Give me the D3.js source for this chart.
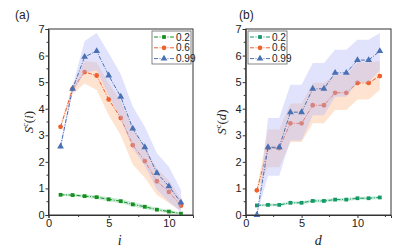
<!DOCTYPE html>
<html>
<head>
<meta charset="utf-8">
<title>S^c panels</title>
<script src="https://d3js.org/d3.v7.min.js"></script>
<style>
  body { margin: 0; background: #fff; }
</style>
</head>
<body>
<div id="chart"></div>
<script>
// series labels
let seriesNames = ["0.2", "0.6", "0.99"];

// panel (a): S^c(i)
let iX = [1, 2, 3, 4, 5, 6, 7, 8, 9, 10, 11];
let a_g    = [0.76, 0.75, 0.71, 0.67, 0.59, 0.52, 0.40, 0.31, 0.20, 0.13, 0.05];
let a_g_lo = [0.72, 0.70, 0.65, 0.60, 0.51, 0.44, 0.32, 0.23, 0.14, 0.07, 0.01];
let a_g_hi = [0.80, 0.80, 0.77, 0.74, 0.67, 0.60, 0.48, 0.39, 0.27, 0.19, 0.09];
let a_o    = [3.32, 4.75, 5.38, 5.25, 4.35, 3.65, 2.63, 2.03, 1.27, 0.87, 0.35];
let a_o_lo = [3.25, 4.55, 4.95, 4.70, 3.75, 3.00, 1.90, 1.40, 0.75, 0.45, 0.15];
let a_o_hi = [3.40, 4.90, 5.80, 5.75, 4.95, 4.30, 3.25, 2.60, 1.75, 1.30, 0.60];
let a_b    = [2.58, 4.75, 5.95, 6.17, 5.25, 4.45, 3.25, 2.55, 1.58, 1.08, 0.47];
let a_b_lo = [2.42, 4.60, 5.35, 5.45, 4.50, 3.60, 2.50, 1.85, 0.95, 0.50, 0.10];
let a_b_hi = [2.72, 4.85, 6.55, 6.85, 6.10, 5.30, 4.08, 3.32, 2.32, 1.82, 0.94];

// panel (b): S^c(d)
let dX = [1, 2, 3, 4, 5, 6, 7, 8, 9, 10, 11, 12];
let b_g    = [0.36, 0.38, 0.38, 0.46, 0.46, 0.53, 0.53, 0.58, 0.58, 0.63, 0.63, 0.66];
let b_g_lo = [0.32, 0.33, 0.33, 0.40, 0.40, 0.47, 0.47, 0.52, 0.52, 0.57, 0.57, 0.60];
let b_g_hi = [0.40, 0.43, 0.43, 0.52, 0.52, 0.59, 0.59, 0.64, 0.64, 0.69, 0.69, 0.72];
let b_o    = [0.93, 2.52, 2.52, 3.45, 3.45, 4.13, 4.13, 4.60, 4.60, 4.97, 4.97, 5.23];
let b_o_lo = [0.88, 1.80, 1.80, 2.75, 2.75, 3.45, 3.45, 3.95, 3.95, 4.35, 4.35, 4.70];
let b_o_hi = [0.98, 3.22, 3.22, 4.20, 4.20, 4.98, 4.98, 5.28, 5.28, 5.75, 5.75, 5.80];
let b_b    = [0.00, 2.55, 2.55, 3.87, 3.87, 4.75, 4.75, 5.35, 5.35, 5.83, 5.83, 6.17];
let b_b_lo = [0.00, 1.48, 1.48, 2.80, 2.80, 3.75, 3.75, 4.45, 4.45, 5.00, 5.00, 5.45];
let b_b_hi = [0.00, 3.65, 3.65, 4.90, 4.90, 5.72, 5.72, 6.22, 6.22, 6.60, 6.60, 6.85];

let xTicks = [0, 5, 10];
let yTicks = [0, 1, 2, 3, 4, 5, 6, 7];

let W = 415, H = 249;
let sans = "Liberation Sans, Arial, sans-serif";
let serif = "Liberation Serif, Times New Roman, serif";
let svg = d3.select("#chart").append("svg")
    .attr("width", W).attr("height", H);

function symbolPath(kind, size) {
    let t = kind == "square" ? d3.symbolSquare : kind == "circle" ? d3.symbolCircle : d3.symbolTriangle;
    return d3.symbol().type(t).size(size)();
}

function drawPanel(p) {
    let x = d3.scaleLinear().domain([0, p.xmax]).range([p.left, p.right]);
    let y = d3.scaleLinear().domain([0, 7]).range([215, 29]);
    let g = svg.append("g");

    // frame
    g.append("rect")
        .attr("x", p.left).attr("y", y(7))
        .attr("width", p.right - p.left).attr("height", y(0) - y(7))
        .attr("fill", "none").attr("stroke", "#333").attr("stroke-width", 1);

    // series: band then line, in order green, orange, blue
    p.series.forEach(function(s) {
        let pts = p.xs.map(function(v, k) { return {x: v, y: s.v[k], lo: s.lo[k], hi: s.hi[k]}; });
        g.append("path")
            .datum(pts)
            .attr("fill", s.band)
            .attr("fill-opacity", s.bandOp)
            .attr("d", d3.area()
                .x(function(d) { return x(d.x); })
                .y0(function(d) { return y(d.lo); })
                .y1(function(d) { return y(d.hi); }));
        g.append("path")
            .datum(pts)
            .attr("fill", "none")
            .attr("stroke", s.color)
            .attr("stroke-width", 1)
            .attr("stroke-dasharray", "4,1.5,1,1.5")
            .attr("d", d3.line()
                .x(function(d) { return x(d.x); })
                .y(function(d) { return y(d.y); }));
        g.selectAll(null)
            .data(pts)
            .enter()
            .append("path")
            .attr("transform", function(d) { return "translate(" + x(d.x) + "," + y(d.y) + ")"; })
            .attr("d", symbolPath(s.shape, s.size))
            .attr("fill", s.color);
    });

    // axes
    let xAxis = d3.axisBottom(x).tickValues(xTicks).tickFormat(d3.format("d")).tickSize(3).tickPadding(1);
    let yAxis = d3.axisLeft(y).tickValues(yTicks).tickFormat(d3.format("d")).tickSize(3).tickPadding(1);
    let gx = g.append("g").attr("transform", "translate(0,215)").call(xAxis);
    let gy = g.append("g").attr("transform", "translate(" + p.left + ",0)").call(yAxis);
    [gx, gy].forEach(function(a) {
        a.select(".domain").attr("stroke", "#333");
        a.selectAll(".tick line").attr("stroke", "#333");
        a.selectAll(".tick text")
            .attr("font-family", sans)
            .attr("font-size", "11px").attr("fill", "#222");
    });
    // minor ticks
    let minorX = [2.5, 7.5, 12.5].filter(function(v) { return v < p.xmax; });
    g.selectAll(null).data(minorX).enter().append("line")
        .attr("x1", function(d) { return x(d); }).attr("x2", function(d) { return x(d); })
        .attr("y1", 215).attr("y2", 217).attr("stroke", "#333");
    let minorY = [0.5, 1.5, 2.5, 3.5, 4.5, 5.5, 6.5];
    g.selectAll(null).data(minorY).enter().append("line")
        .attr("x1", p.left - 2).attr("x2", p.left)
        .attr("y1", function(d) { return y(d); }).attr("y2", function(d) { return y(d); })
        .attr("stroke", "#333");

    // labels
    g.append("text")
        .attr("x", p.panelX).attr("y", 19)
        .attr("font-family", sans)
        .attr("font-size", "12px").attr("fill", "#222")
        .text(p.panel);
    g.append("text")
        .attr("x", (p.left + p.right) / 2 + p.xlabDx).attr("y", 245)
        .attr("text-anchor", "middle")
        .attr("font-family", serif)
        .attr("font-style", "italic").attr("font-size", "14px").attr("fill", "#222")
        .text(p.xlab);
    let yl = g.append("text")
        .attr("transform", "translate(" + p.ylabX + ",122) rotate(-90)")
        .attr("text-anchor", "middle")
        .attr("font-family", serif)
        .attr("font-size", "13px").attr("fill", "#222");
    yl.append("tspan").attr("font-style", "italic").text("S");
    yl.append("tspan").attr("font-size", "8px").attr("dy", "-5").text("c");
    yl.append("tspan").attr("dy", "5").text("(");
    yl.append("tspan").attr("font-style", "italic").text(p.xlab);
    yl.append("tspan").text(")");

    // legend
    let lg = g.append("g").attr("transform", "translate(" + p.legX + ",31)");
    lg.append("rect").attr("width", 39).attr("height", 33)
        .attr("fill", "#fff").attr("stroke", "#666").attr("stroke-width", 0.8);
    p.series.forEach(function(s, k) {
        let yy = 6 + k * 10.8;
        lg.append("line").attr("x1", 2).attr("x2", 22).attr("y1", yy).attr("y2", yy)
            .attr("stroke", s.color).attr("stroke-dasharray", "4,1.5,1,1.5");
        lg.append("path").attr("transform", "translate(12," + yy + ")")
            .attr("d", symbolPath(s.shape, s.size)).attr("fill", s.color);
        lg.append("text").attr("x", 24).attr("y", yy + 3.5)
            .attr("font-family", sans)
            .attr("font-size", "10px").attr("fill", "#222")
            .text(seriesNames[k]);
    });
}

drawPanel({
    panel: "(a)", panelX: 15, xlab: "i", xlabDx: -1, ylabX: 33,
    left: 48.5, right: 193, xmax: 12, legX: 152, xs: iX,
    series: [
        {v: a_g, lo: a_g_lo, hi: a_g_hi, color: "#15901f", band: "#9fdcb8", bandOp: 0.55, shape: "square", size: 14},
        {v: a_o, lo: a_o_lo, hi: a_o_hi, color: "#f0602c", band: "#fdd7bd", bandOp: 0.7, shape: "circle", size: 18},
        {v: a_b, lo: a_b_lo, hi: a_b_hi, color: "#4a70b4", band: "#b4b9fa", bandOp: 0.4, shape: "triangle", size: 20}
    ]
});

drawPanel({
    panel: "(b)", panelX: 239, xlab: "d", xlabDx: 0, ylabX: 226,
    left: 245.7, right: 391, xmax: 13, legX: 248, xs: dX,
    series: [
        {v: b_g, lo: b_g_lo, hi: b_g_hi, color: "#139868", band: "#9fdcb8", bandOp: 0.55, shape: "square", size: 14},
        {v: b_o, lo: b_o_lo, hi: b_o_hi, color: "#f0602c", band: "#fdd7bd", bandOp: 0.7, shape: "circle", size: 18},
        {v: b_b, lo: b_b_lo, hi: b_b_hi, color: "#4a70b4", band: "#b4b9fa", bandOp: 0.4, shape: "triangle", size: 20}
    ]
});
</script>
</body>
</html>
